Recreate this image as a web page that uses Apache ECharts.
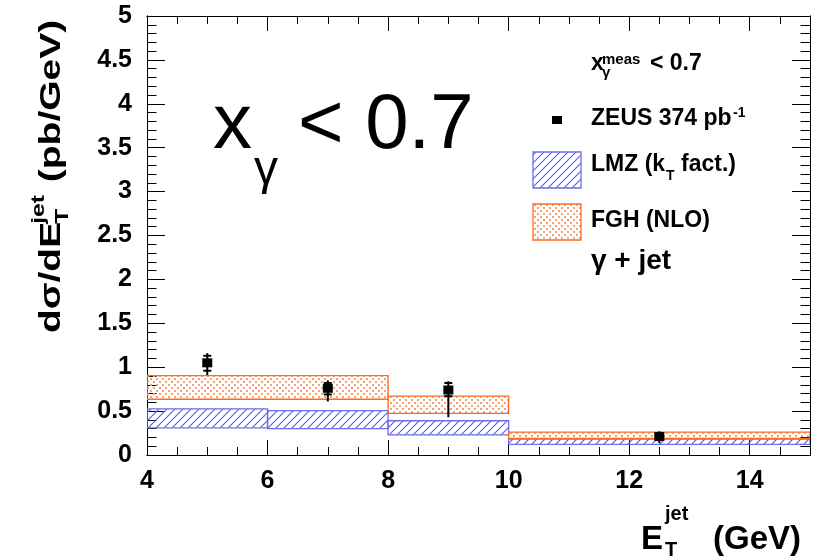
<!DOCTYPE html>
<html><head><meta charset="utf-8">
<script src="https://cdn.jsdelivr.net/npm/echarts@6/dist/echarts.min.js"></script>
<style>html,body{margin:0;padding:0;background:#fff}#c{width:815px;height:559px}</style>
</head><body><div id="c"></div>
<script>
// ---- data ----
const lmzLo  = [4, 6, 8, 10];
const lmzHi  = [6, 8, 10, 15];
const lmzMin = [0.31, 0.30, 0.23, 0.12];
const lmzMax = [0.525, 0.505, 0.39, 0.18];

const fghLo  = [4, 8, 10];
const fghHi  = [8, 10, 15];
const fghMin = [0.635, 0.475, 0.19];
const fghMax = [0.905, 0.67, 0.26];

const zeusX      = [5, 7, 9, 12.5];
const zeusY      = [1.05, 0.76, 0.74, 0.21];
const zeusStatLo = [0.96, 0.69, 0.67, 0.18];
const zeusStatHi = [1.13, 0.82, 0.82, 0.24];
const zeusTotLo  = [0.91, 0.61, 0.43, 0.135];
const zeusTotHi  = [1.16, 0.85, 0.84, 0.27];

const xMin = 4, xMax = 15, xMajor = 2, xMinor = 0.5;
const yMin = 0, yMax = 5, yMajor = 0.5, yMinor = 0.1;

// ---- patterns ----
function hatchCanvas(color) {
  const c = document.createElement('canvas'); c.width = 8; c.height = 8;
  const g = c.getContext('2d');
  g.strokeStyle = color; g.lineWidth = 1.1;
  g.beginPath();
  g.moveTo(0, 8); g.lineTo(8, 0);
  g.moveTo(-1, 1); g.lineTo(1, -1);
  g.moveTo(7, 9); g.lineTo(9, 7);
  g.stroke();
  return c;
}
function dotCanvas(color) {
  const c = document.createElement('canvas'); c.width = 6; c.height = 6;
  const g = c.getContext('2d');
  g.fillStyle = color;
  g.fillRect(0, 0, 2, 2); g.fillRect(3, 3, 2, 2);
  return c;
}
const BLUE = '#6c6cf0', ORANGE = '#ff6a1c';
const hatchPat = {image: hatchCanvas('#5858ff'), repeat: 'repeat'};
const dotPat = {image: dotCanvas('#f6a272'), repeat: 'repeat'};
const F = '"Liberation Sans", Arial, Helvetica, sans-serif';

function bandRender(pattern, stroke) {
  return function (params, api) {
    const p0 = api.coord([api.value(0), api.value(3)]);
    const p1 = api.coord([api.value(1), api.value(2)]);
    return {type: 'rect', shape: {x: p0[0], y: p0[1], width: p1[0] - p0[0], height: p1[1] - p0[1]},
      style: {fill: pattern, stroke: stroke, lineWidth: 1.3}};
  };
}
function pointRender(params, api) {
  const x = api.value(0);
  const c = api.coord([x, api.value(1)]);
  const sLo = api.coord([x, api.value(2)]), sHi = api.coord([x, api.value(3)]);
  const tLo = api.coord([x, api.value(4)]), tHi = api.coord([x, api.value(5)]);
  const blk = {stroke: '#000', lineWidth: 2};
  return {type: 'group', children: [
    {type: 'line', shape: {x1: c[0], y1: tHi[1], x2: c[0], y2: tLo[1]}, style: blk},
    {type: 'line', shape: {x1: c[0] - 4, y1: sHi[1], x2: c[0] + 4, y2: sHi[1]}, style: blk},
    {type: 'line', shape: {x1: c[0] - 4, y1: sLo[1], x2: c[0] + 4, y2: sLo[1]}, style: blk},
    {type: 'rect', shape: {x: c[0] - 5, y: c[1] - 4.5, width: 10, height: 9}, style: {fill: '#000'}}
  ]};
}

function xAx(grid, pos, interval, len, labels) {
  return {type: 'value', gridIndex: grid, position: pos, min: xMin, max: xMax, interval: interval,
    axisLine: {show: true, onZero: false, lineStyle: {color: '#000', width: 1}},
    axisTick: {show: true, inside: true, length: len, lineStyle: {color: '#000', width: 1}},
    axisLabel: labels ? {show: true, color: '#000', fontFamily: F, fontWeight: 'bold', fontSize: 25, margin: 14, showMaxLabel: false}
                      : {show: false},
    splitLine: {show: false}, minorTick: {show: false}};
}
function yAx(grid, pos, interval, len, labels) {
  return {type: 'value', gridIndex: grid, position: pos, min: yMin, max: yMax, interval: interval,
    axisLine: {show: true, onZero: false, lineStyle: {color: '#000', width: 1}},
    axisTick: {show: true, inside: true, length: len, lineStyle: {color: '#000', width: 1}},
    axisLabel: labels ? {show: true, color: '#000', fontFamily: F, fontWeight: 'bold', fontSize: 25, margin: 15}
                      : {show: false},
    splitLine: {show: false}, minorTick: {show: false}};
}

const gridBox = {left: 147, top: 16, right: 5, bottom: 104, outerBoundsMode: 'none', containLabel: false};

function txt(x, yBase, s, size, weight, extra) {
  return Object.assign({type: 'text', x: x, y: yBase - 0.35 * size,
    style: {text: s, fill: '#000', font: (weight || 'normal') + ' ' + size + 'px ' + F, align: 'left', verticalAlign: 'middle'}}, extra || {});
}

const graphics = [
  // big label
  txt(213, 154, 'x', 78, 'normal'),
  txt(254, 188, 'γ', 48, 'normal'),
  txt(298, 154, '< 0.7', 78, 'normal'),
  // legend block
  txt(591, 72, 'x', 23, 'bold'),
  txt(602, 65, 'meas', 15, 'bold'),
  txt(602, 78, 'γ', 15, 'bold'),
  txt(650, 72, '< 0.7', 23, 'bold'),
  {type: 'rect', shape: {x: 552, y: 116, width: 10, height: 8}, style: {fill: '#000'}},
  txt(591, 127, 'ZEUS 374 pb', 23, 'bold'),
  txt(733, 118, '-1', 14, 'bold'),
  {type: 'rect', shape: {x: 533, y: 152, width: 48, height: 36}, style: {fill: hatchPat, stroke: BLUE, lineWidth: 1.3}},
  txt(591, 173, 'LMZ (k', 23, 'bold'),
  txt(666, 181, 'T', 14, 'bold'),
  txt(681, 173, 'fact.)', 23, 'bold'),
  {type: 'rect', shape: {x: 533, y: 204, width: 48, height: 36}, style: {fill: dotPat, stroke: ORANGE, lineWidth: 1.3}},
  txt(591, 229, 'FGH (NLO)', 23, 'bold'),
  txt(591, 271, 'γ + jet', 28, 'bold'),
  // x-axis title
  txt(641, 551, 'E', 33, 'bold'),
  txt(665, 521, 'jet', 20, 'bold'),
  txt(665, 557, 'T', 20, 'bold'),
  txt(713, 551, '(GeV)', 33, 'bold'),
  // y-axis title (rotated group)
  {type: 'group', x: 62, y: 333, rotation: Math.PI / 2, scaleX: 1.3, children: [
    {type: 'text', x: 0, y: -0.35 * 30, style: {text: 'dσ/dE', fill: '#000', font: 'bold 30px ' + F, align: 'left', verticalAlign: 'middle'}},
    {type: 'text', x: 84, y: 7 - 0.35 * 19, style: {text: 'T', fill: '#000', font: 'bold 19px ' + F, align: 'left', verticalAlign: 'middle'}},
    {type: 'text', x: 84, y: -17 - 0.35 * 19, style: {text: 'jet', fill: '#000', font: 'bold 19px ' + F, align: 'left', verticalAlign: 'middle'}},
    {type: 'text', x: 116, y: -0.35 * 30, style: {text: '(pb/GeV)', fill: '#000', font: 'bold 30px ' + F, align: 'left', verticalAlign: 'middle'}}
  ]}
];

const option = {
  animation: false,
  backgroundColor: '#fff',
  grid: [Object.assign({}, gridBox), Object.assign({}, gridBox)],
  xAxis: [
    xAx(0, 'bottom', xMajor, 15, true),
    xAx(0, 'top', xMajor, 15, false),
    xAx(1, 'bottom', xMinor, 8, false),
    xAx(1, 'top', xMinor, 8, false)
  ],
  yAxis: [
    yAx(0, 'left', yMajor, 18, true),
    yAx(0, 'right', yMajor, 18, false),
    yAx(1, 'left', yMinor, 9.5, false),
    yAx(1, 'right', yMinor, 9.5, false)
  ],
  series: [
    {type: 'custom', name: 'LMZ (kT fact.)', xAxisIndex: 0, yAxisIndex: 0, clip: true, z: 2,
     data: lmzLo.map((v, i) => [v, lmzHi[i], lmzMin[i], lmzMax[i]]),
     encode: {x: [0, 1], y: [2, 3]}, renderItem: bandRender(hatchPat, BLUE)},
    {type: 'custom', name: 'FGH (NLO)', xAxisIndex: 0, yAxisIndex: 0, clip: true, z: 3,
     data: fghLo.map((v, i) => [v, fghHi[i], fghMin[i], fghMax[i]]),
     encode: {x: [0, 1], y: [2, 3]}, renderItem: bandRender(dotPat, ORANGE)},
    {type: 'custom', name: 'ZEUS 374 pb-1', xAxisIndex: 0, yAxisIndex: 0, z: 5,
     data: zeusX.map((x, i) => [x, zeusY[i], zeusStatLo[i], zeusStatHi[i], zeusTotLo[i], zeusTotHi[i]]),
     encode: {x: 0, y: [1, 2, 3, 4, 5]}, renderItem: pointRender}
  ],
  graphic: graphics
};
const chart = echarts.init(document.getElementById('c'));
chart.setOption(option);
</script>
</body></html>
